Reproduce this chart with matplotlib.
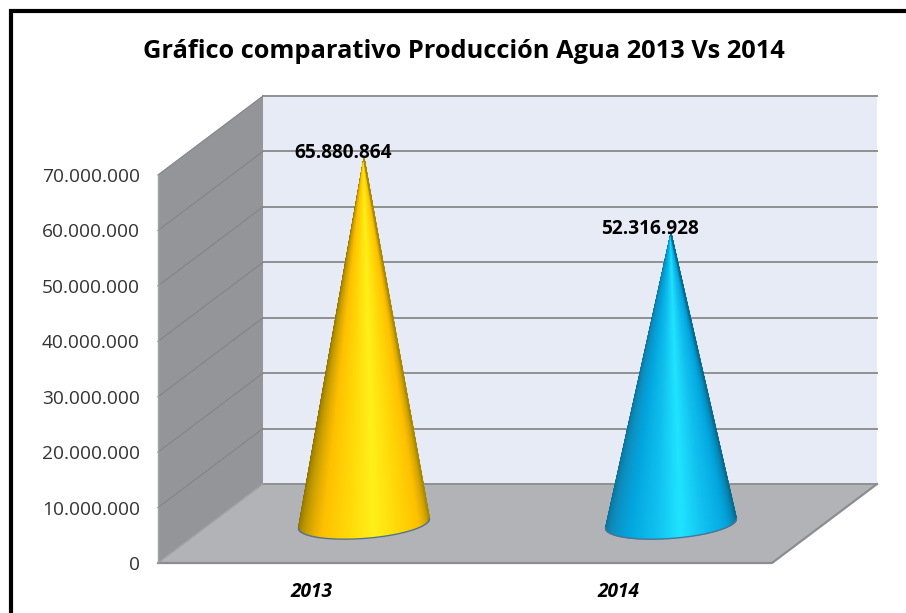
import numpy as np
import matplotlib
matplotlib.use("Agg")
import matplotlib.pyplot as plt
from matplotlib.colors import LinearSegmentedColormap
from matplotlib.lines import Line2D
from matplotlib.patches import Polygon
from matplotlib.ticker import FuncFormatter, MultipleLocator

# Data
years = ["2013", "2014"]
produccion = [65880864, 52316928]
data_labels = ["65.880.864", "52.316.928"]

plt.rcParams["font.family"] = ["Open Sans", "DejaVu Sans"]

W, H = 906, 613
fig = plt.figure(figsize=(W / 100, H / 100), dpi=100, facecolor="white")
ax = fig.add_axes([158 / W, (H - 563) / H, 614 / W, 388 / H])
ax.patch.set_visible(False)

ymax = 70000000
# depth of the fake 3d box, in data units
depth_x = 105 / 307
depth_y = 79 / 55.43 * 10000000
x0, x1 = -0.5, 1.5

wall_side = "#939598"
wall_floor = "#b1b3b6"
wall_back = "#e7ebf5"
grid_col = "#8f9092"

ax.add_patch(Polygon([(x0 + depth_x, depth_y), (x1 + depth_x, depth_y),
                      (x1 + depth_x, ymax + depth_y), (x0 + depth_x, ymax + depth_y)],
                     fc=wall_back, ec="none", clip_on=False, zorder=1))
ax.add_patch(Polygon([(x0, 0), (x0 + depth_x, depth_y),
                      (x0 + depth_x, ymax + depth_y), (x0, ymax)],
                     fc=wall_side, ec="none", clip_on=False, zorder=1))
ax.add_patch(Polygon([(x0, 0), (x1, 0), (x1 + depth_x, depth_y), (x0 + depth_x, depth_y)],
                     fc=wall_floor, ec="none", clip_on=False, zorder=1))

# gridlines, along the side wall and the back wall
for v in range(0, ymax + 1, 10000000):
    ax.plot([x0 + depth_x, x1 + depth_x], [v + depth_y, v + depth_y], color=grid_col,
            lw=1.4, clip_on=False, zorder=2)
    if v > 0:
        ax.plot([x0, x0 + depth_x], [v, v + depth_y], color="#85868a", lw=0.9,
                clip_on=False, zorder=2)
ax.plot([x0, x0 + depth_x], [0, depth_y], color="#a0a2a5", lw=1.0, clip_on=False, zorder=2)
ax.plot([x0, x1, x1 + depth_x], [0, 0, depth_y], color="#8c8d90", lw=1.6, clip_on=False, zorder=2)
ax.plot([x0, x0], [0, ymax], color="#a0a2a5", lw=1.0, clip_on=False, zorder=2)

gold = LinearSegmentedColormap.from_list("gold", [
    (0.0, "#8a7000"), (0.14, "#c29a00"), (0.28, "#ffc000"), (0.42, "#ffd808"),
    (0.55, "#fff01a"), (0.68, "#ffd808"), (0.82, "#ffc000"), (1.0, "#a88a00")])
blue = LinearSegmentedColormap.from_list("blue", [
    (0.0, "#0b6f96"), (0.14, "#0e8dbd"), (0.28, "#03a6df"), (0.42, "#10bfee"),
    (0.55, "#20e4ff"), (0.68, "#10bfee"), (0.82, "#03a6df"), (1.0, "#086c90")])
cmaps = [gold, blue]

# cone base ellipse
rx = 65.5 / 307
ry = 2700000
tilt = 850000
t = np.linspace(np.pi, 0, 161)
u = np.linspace(0, 1, 161)

for i, val in enumerate(produccion):
    cx = i + depth_x / 2
    cy = depth_y / 2
    bx = cx + rx * np.cos(t)
    by = cy + tilt * np.cos(t) - ry * np.sin(t)
    X = np.vstack([np.full_like(bx, cx), bx])
    Y = np.vstack([np.full_like(by, cy + val), by])
    C = np.vstack([u, u])
    mesh = ax.pcolormesh(X, Y, C, cmap=cmaps[i], shading="gouraud", vmin=0, vmax=1,
                         clip_on=False, zorder=3)
    ax.plot(bx, by, color="#4f7396", lw=1.0, clip_on=False, zorder=4)
    ax.annotate(data_labels[i], xy=(cx, cy + val), xytext=(-21 * 0.72, 5 * 0.72),
                textcoords="offset points", ha="center", va="center", fontsize=13.7,
                fontweight="bold", color="black", annotation_clip=False, zorder=5)

ax.set_xlim(x0, x1)
ax.set_ylim(0, ymax)
ax.set_xticks(range(len(years)))
ax.set_xticklabels(years, fontsize=13.8, fontweight="bold", fontstyle="italic", color="black")
ax.yaxis.set_major_locator(MultipleLocator(10000000))
ax.yaxis.set_major_formatter(FuncFormatter(lambda v, p: f"{int(v):,}".replace(",", ".")))
ax.tick_params(axis="y", length=0, pad=13, labelsize=13.8, labelcolor="#333333")
ax.tick_params(axis="x", length=0, pad=14)
for s in ax.spines.values():
    s.set_visible(False)

fig.text(464 / W, 1 - 51 / H, "Gráfico comparativo Producción Agua 2013 Vs 2014",
         ha="center", va="center", fontsize=18.3, fontweight="bold", color="black")

# black frame of the picture, open on the right and at the bottom
fig.add_artist(Line2D([10.5 / W, 10.5 / W, 1], [0, 1 - 11 / H, 1 - 11 / H], color="black",
                      lw=3, solid_joinstyle="miter"))

fig.savefig("out.png", dpi=100)
